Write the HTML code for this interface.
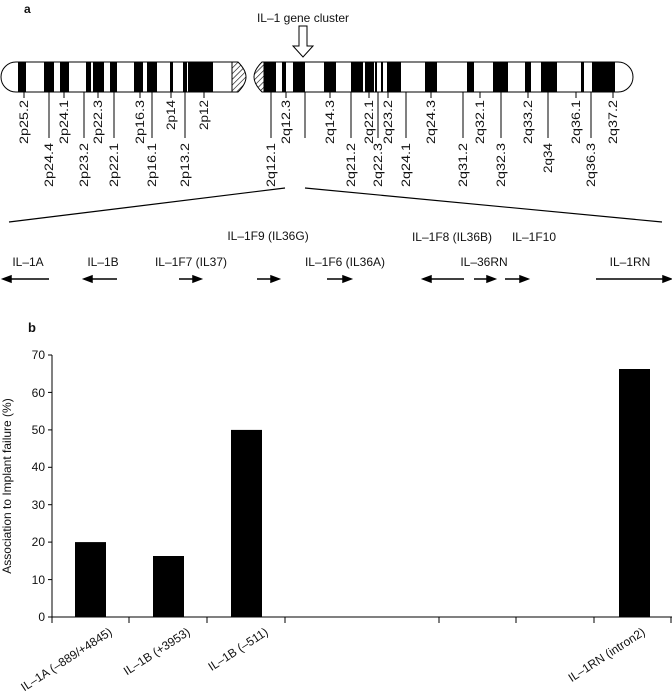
<!DOCTYPE html>
<html><head><meta charset="utf-8"><style>body{margin:0;background:#fff}svg{display:block}text{font-family:"Liberation Sans",sans-serif;fill:#111}</style></head><body>
<svg width="672" height="698" viewBox="0 0 672 698">
<defs>
<pattern id="h" width="4" height="4" patternUnits="userSpaceOnUse" patternTransform="rotate(45)"><rect width="4" height="4" fill="#fff"/><line x1="0" y1="0" x2="0" y2="4" stroke="#000" stroke-width="1.2"/></pattern>
<clipPath id="cp"><path d="M16,62 H238 Q246,70 246,77 Q246,84 238,92 H16 A15,15 0 0 1 16,62 Z"/></clipPath>
<clipPath id="cq"><path d="M262,62 H618 A15,15 0 0 1 618,92 H262 Q254,84 254,77 Q254,70 262,62 Z"/></clipPath>
</defs>
<text x="24" y="13" font-size="12" font-weight="bold">a</text>
<text x="303" y="22" font-size="12" text-anchor="middle">IL–1 gene cluster</text>
<path d="M299,26 H307 V46 H313 L303,57 L293,46 H299 Z" fill="#fff" stroke="#000" stroke-width="1"/>
<g clip-path="url(#cp)">
<rect x="0" y="60" width="250" height="35" fill="#fff"/>
<g fill="#000">
<rect x="18" y="60" width="8" height="35"/><rect x="44" y="60" width="10" height="35"/><rect x="60" y="60" width="9" height="35"/><rect x="86" y="60" width="5" height="35"/><rect x="93" y="60" width="11" height="35"/><rect x="110" y="60" width="7" height="35"/><rect x="134" y="60" width="9" height="35"/><rect x="147" y="60" width="10" height="35"/><rect x="170" y="60" width="3" height="35"/><rect x="183" y="60" width="4" height="35"/><rect x="188" y="60" width="25" height="35"/>
</g>
<rect x="232" y="60" width="16" height="35" fill="url(#h)"/>
</g>
<path d="M16,62 H238 Q246,70 246,77 Q246,84 238,92 H16 A15,15 0 0 1 16,62 Z" fill="none" stroke="#000"/>
<line x1="232" y1="62" x2="232" y2="92" stroke="#000"/>
<g clip-path="url(#cq)">
<rect x="250" y="60" width="390" height="35" fill="#fff"/>
<rect x="250" y="60" width="14" height="35" fill="url(#h)"/>
<g fill="#000">
<rect x="264" y="60" width="12" height="35"/><rect x="282" y="60" width="4" height="35"/><rect x="293" y="60" width="12" height="35"/><rect x="324" y="60" width="12" height="35"/><rect x="351" y="60" width="12" height="35"/><rect x="365" y="60" width="9" height="35"/><rect x="375" y="60" width="2" height="35"/><rect x="381" y="60" width="2" height="35"/><rect x="387" y="60" width="14" height="35"/><rect x="425" y="60" width="12" height="35"/><rect x="467" y="60" width="7" height="35"/><rect x="493" y="60" width="15" height="35"/><rect x="525" y="60" width="6" height="35"/><rect x="541" y="60" width="16" height="35"/><rect x="581" y="60" width="3" height="35"/><rect x="592" y="60" width="23" height="35"/>
</g>
</g>
<path d="M262,62 H618 A15,15 0 0 1 618,92 H262 Q254,84 254,77 Q254,70 262,62 Z" fill="none" stroke="#000"/>
<line x1="264" y1="62" x2="264" y2="92" stroke="#000"/>
<g stroke="#000" stroke-width="1">
<line x1="24" y1="92" x2="24" y2="98"/><line x1="64" y1="92" x2="64" y2="98"/><line x1="98" y1="92" x2="98" y2="98"/><line x1="140" y1="92" x2="140" y2="98"/><line x1="171" y1="92" x2="171" y2="98"/><line x1="204" y1="92" x2="204" y2="98"/><line x1="286" y1="92" x2="286" y2="98"/><line x1="330" y1="92" x2="330" y2="98"/><line x1="369" y1="92" x2="369" y2="98"/><line x1="388" y1="92" x2="388" y2="98"/><line x1="431" y1="92" x2="431" y2="98"/><line x1="480" y1="92" x2="480" y2="98"/><line x1="528" y1="92" x2="528" y2="98"/><line x1="576" y1="92" x2="576" y2="98"/><line x1="613" y1="92" x2="613" y2="98"/>
<line x1="49" y1="92" x2="49" y2="138"/><line x1="84" y1="92" x2="84" y2="138"/><line x1="114" y1="92" x2="114" y2="138"/><line x1="152" y1="92" x2="152" y2="138"/><line x1="185" y1="92" x2="185" y2="138"/><line x1="271" y1="92" x2="271" y2="138"/><line x1="305" y1="92" x2="305" y2="138"/><line x1="351" y1="92" x2="351" y2="138"/><line x1="378" y1="92" x2="378" y2="138"/><line x1="406" y1="92" x2="406" y2="138"/><line x1="463" y1="92" x2="463" y2="138"/><line x1="501" y1="92" x2="501" y2="138"/><line x1="548" y1="92" x2="548" y2="138"/><line x1="591" y1="92" x2="591" y2="138"/>
</g>
<g font-size="12" text-anchor="end">
<text transform="translate(28,100) rotate(-90)" textLength="44" lengthAdjust="spacingAndGlyphs">2p25.2</text>
<text transform="translate(68,100) rotate(-90)" textLength="44" lengthAdjust="spacingAndGlyphs">2p24.1</text>
<text transform="translate(102,100) rotate(-90)" textLength="44" lengthAdjust="spacingAndGlyphs">2p22.3</text>
<text transform="translate(144,100) rotate(-90)" textLength="44" lengthAdjust="spacingAndGlyphs">2p16.3</text>
<text transform="translate(175,100) rotate(-90)" textLength="30" lengthAdjust="spacingAndGlyphs">2p14</text>
<text transform="translate(208,100) rotate(-90)" textLength="30" lengthAdjust="spacingAndGlyphs">2p12</text>
<text transform="translate(290,100) rotate(-90)" textLength="44" lengthAdjust="spacingAndGlyphs">2q12.3</text>
<text transform="translate(334,100) rotate(-90)" textLength="44" lengthAdjust="spacingAndGlyphs">2q14.3</text>
<text transform="translate(373,100) rotate(-90)" textLength="44" lengthAdjust="spacingAndGlyphs">2q22.1</text>
<text transform="translate(392,100) rotate(-90)" textLength="44" lengthAdjust="spacingAndGlyphs">2q23.2</text>
<text transform="translate(435,100) rotate(-90)" textLength="44" lengthAdjust="spacingAndGlyphs">2q24.3</text>
<text transform="translate(484,100) rotate(-90)" textLength="44" lengthAdjust="spacingAndGlyphs">2q32.1</text>
<text transform="translate(532,100) rotate(-90)" textLength="44" lengthAdjust="spacingAndGlyphs">2q33.2</text>
<text transform="translate(580,100) rotate(-90)" textLength="44" lengthAdjust="spacingAndGlyphs">2q36.1</text>
<text transform="translate(617,100) rotate(-90)" textLength="44" lengthAdjust="spacingAndGlyphs">2q37.2</text>
<text transform="translate(53,143) rotate(-90)" textLength="44" lengthAdjust="spacingAndGlyphs">2p24.4</text>
<text transform="translate(88,143) rotate(-90)" textLength="44" lengthAdjust="spacingAndGlyphs">2p23.2</text>
<text transform="translate(118,143) rotate(-90)" textLength="44" lengthAdjust="spacingAndGlyphs">2p22.1</text>
<text transform="translate(156,143) rotate(-90)" textLength="44" lengthAdjust="spacingAndGlyphs">2p16.1</text>
<text transform="translate(189,143) rotate(-90)" textLength="44" lengthAdjust="spacingAndGlyphs">2p13.2</text>
<text transform="translate(275,143) rotate(-90)" textLength="44" lengthAdjust="spacingAndGlyphs">2q12.1</text>
<text transform="translate(355,143) rotate(-90)" textLength="44" lengthAdjust="spacingAndGlyphs">2q21.2</text>
<text transform="translate(382,143) rotate(-90)" textLength="44" lengthAdjust="spacingAndGlyphs">2q22.3</text>
<text transform="translate(410,143) rotate(-90)" textLength="44" lengthAdjust="spacingAndGlyphs">2q24.1</text>
<text transform="translate(467,143) rotate(-90)" textLength="44" lengthAdjust="spacingAndGlyphs">2q31.2</text>
<text transform="translate(505,143) rotate(-90)" textLength="44" lengthAdjust="spacingAndGlyphs">2q32.3</text>
<text transform="translate(552,143) rotate(-90)" textLength="30" lengthAdjust="spacingAndGlyphs">2q34</text>
<text transform="translate(595,143) rotate(-90)" textLength="44" lengthAdjust="spacingAndGlyphs">2q36.3</text>
</g>
<line x1="285" y1="188" x2="9" y2="222" stroke="#000" stroke-width="1.2"/>
<line x1="305" y1="188" x2="662" y2="222" stroke="#000" stroke-width="1.2"/>
<g font-size="12" text-anchor="middle">
<text x="268" y="240">IL–1F9 (IL36G)</text>
<text x="452" y="241">IL–1F8 (IL36B)</text>
<text x="534" y="241">IL–1F10</text>
<text x="28" y="266">IL–1A</text>
<text x="103" y="266">IL–1B</text>
<text x="191" y="266">IL–1F7 (IL37)</text>
<text x="345" y="266">IL–1F6 (IL36A)</text>
<text x="484" y="266">IL–36RN</text>
<text x="630" y="266">IL–1RN</text>
</g>
<g stroke="#000" stroke-width="1.5" fill="#000">
<line x1="8" y1="279" x2="49" y2="279"/><path d="M3,279 L11,276 L11,282Z"/>
<line x1="89" y1="279" x2="117" y2="279"/><path d="M84,279 L92,276 L92,282Z"/>
<line x1="179" y1="279" x2="196" y2="279"/><path d="M201,279 L193,276 L193,282Z"/>
<line x1="257" y1="279" x2="274" y2="279"/><path d="M279,279 L271,276 L271,282Z"/>
<line x1="327" y1="279" x2="346" y2="279"/><path d="M351,279 L343,276 L343,282Z"/>
<line x1="428" y1="279" x2="464" y2="279"/><path d="M423,279 L431,276 L431,282Z"/>
<line x1="474" y1="279" x2="490" y2="279"/><path d="M495,279 L487,276 L487,282Z"/>
<line x1="505" y1="279" x2="523" y2="279"/><path d="M528,279 L520,276 L520,282Z"/>
<line x1="596" y1="279" x2="666" y2="279"/><path d="M671,279 L663,276 L663,282Z"/>
</g>
<text x="28" y="332" font-size="13" font-weight="bold">b</text>
<g stroke="#000" stroke-width="1">
<line x1="52" y1="355" x2="52" y2="617"/>
<line x1="52" y1="617" x2="672" y2="617"/>
<line x1="48" y1="355" x2="52" y2="355"/><line x1="48" y1="392.4" x2="52" y2="392.4"/><line x1="48" y1="429.9" x2="52" y2="429.9"/><line x1="48" y1="467.3" x2="52" y2="467.3"/><line x1="48" y1="504.7" x2="52" y2="504.7"/><line x1="48" y1="542.1" x2="52" y2="542.1"/><line x1="48" y1="579.6" x2="52" y2="579.6"/><line x1="48" y1="617" x2="52" y2="617"/>
<line x1="52" y1="617" x2="52" y2="623"/><line x1="129" y1="617" x2="129" y2="623"/><line x1="207" y1="617" x2="207" y2="623"/><line x1="285" y1="617" x2="285" y2="623"/><line x1="439" y1="617" x2="439" y2="623"/><line x1="516" y1="617" x2="516" y2="623"/><line x1="594" y1="617" x2="594" y2="623"/><line x1="671" y1="617" x2="671" y2="623"/>
</g>
<g font-size="12" text-anchor="end">
<text x="45" y="359">70</text><text x="45" y="397">60</text><text x="45" y="434">50</text><text x="45" y="471">40</text><text x="45" y="509">30</text><text x="45" y="546">20</text><text x="45" y="584">10</text><text x="45" y="621">0</text>
</g>
<text transform="translate(11,486) rotate(-90)" font-size="12" text-anchor="middle">Association to Implant failure (%)</text>
<g fill="#000">
<rect x="75" y="542.1" width="31" height="74.9"/>
<rect x="153" y="556" width="31" height="61"/>
<rect x="231" y="429.9" width="31" height="187.1"/>
<rect x="619" y="369" width="31" height="248"/>
</g>
<g font-size="12" text-anchor="end">
<text transform="translate(113,634) rotate(-33)">IL–1A (–889/+4845)</text>
<text transform="translate(191,634) rotate(-33)">IL–1B (+3953)</text>
<text transform="translate(269,634) rotate(-33)">IL–1B (–511)</text>
<text transform="translate(646,634) rotate(-33)">IL–1RN (intron2)</text>
</g>
</svg>
</body></html>
